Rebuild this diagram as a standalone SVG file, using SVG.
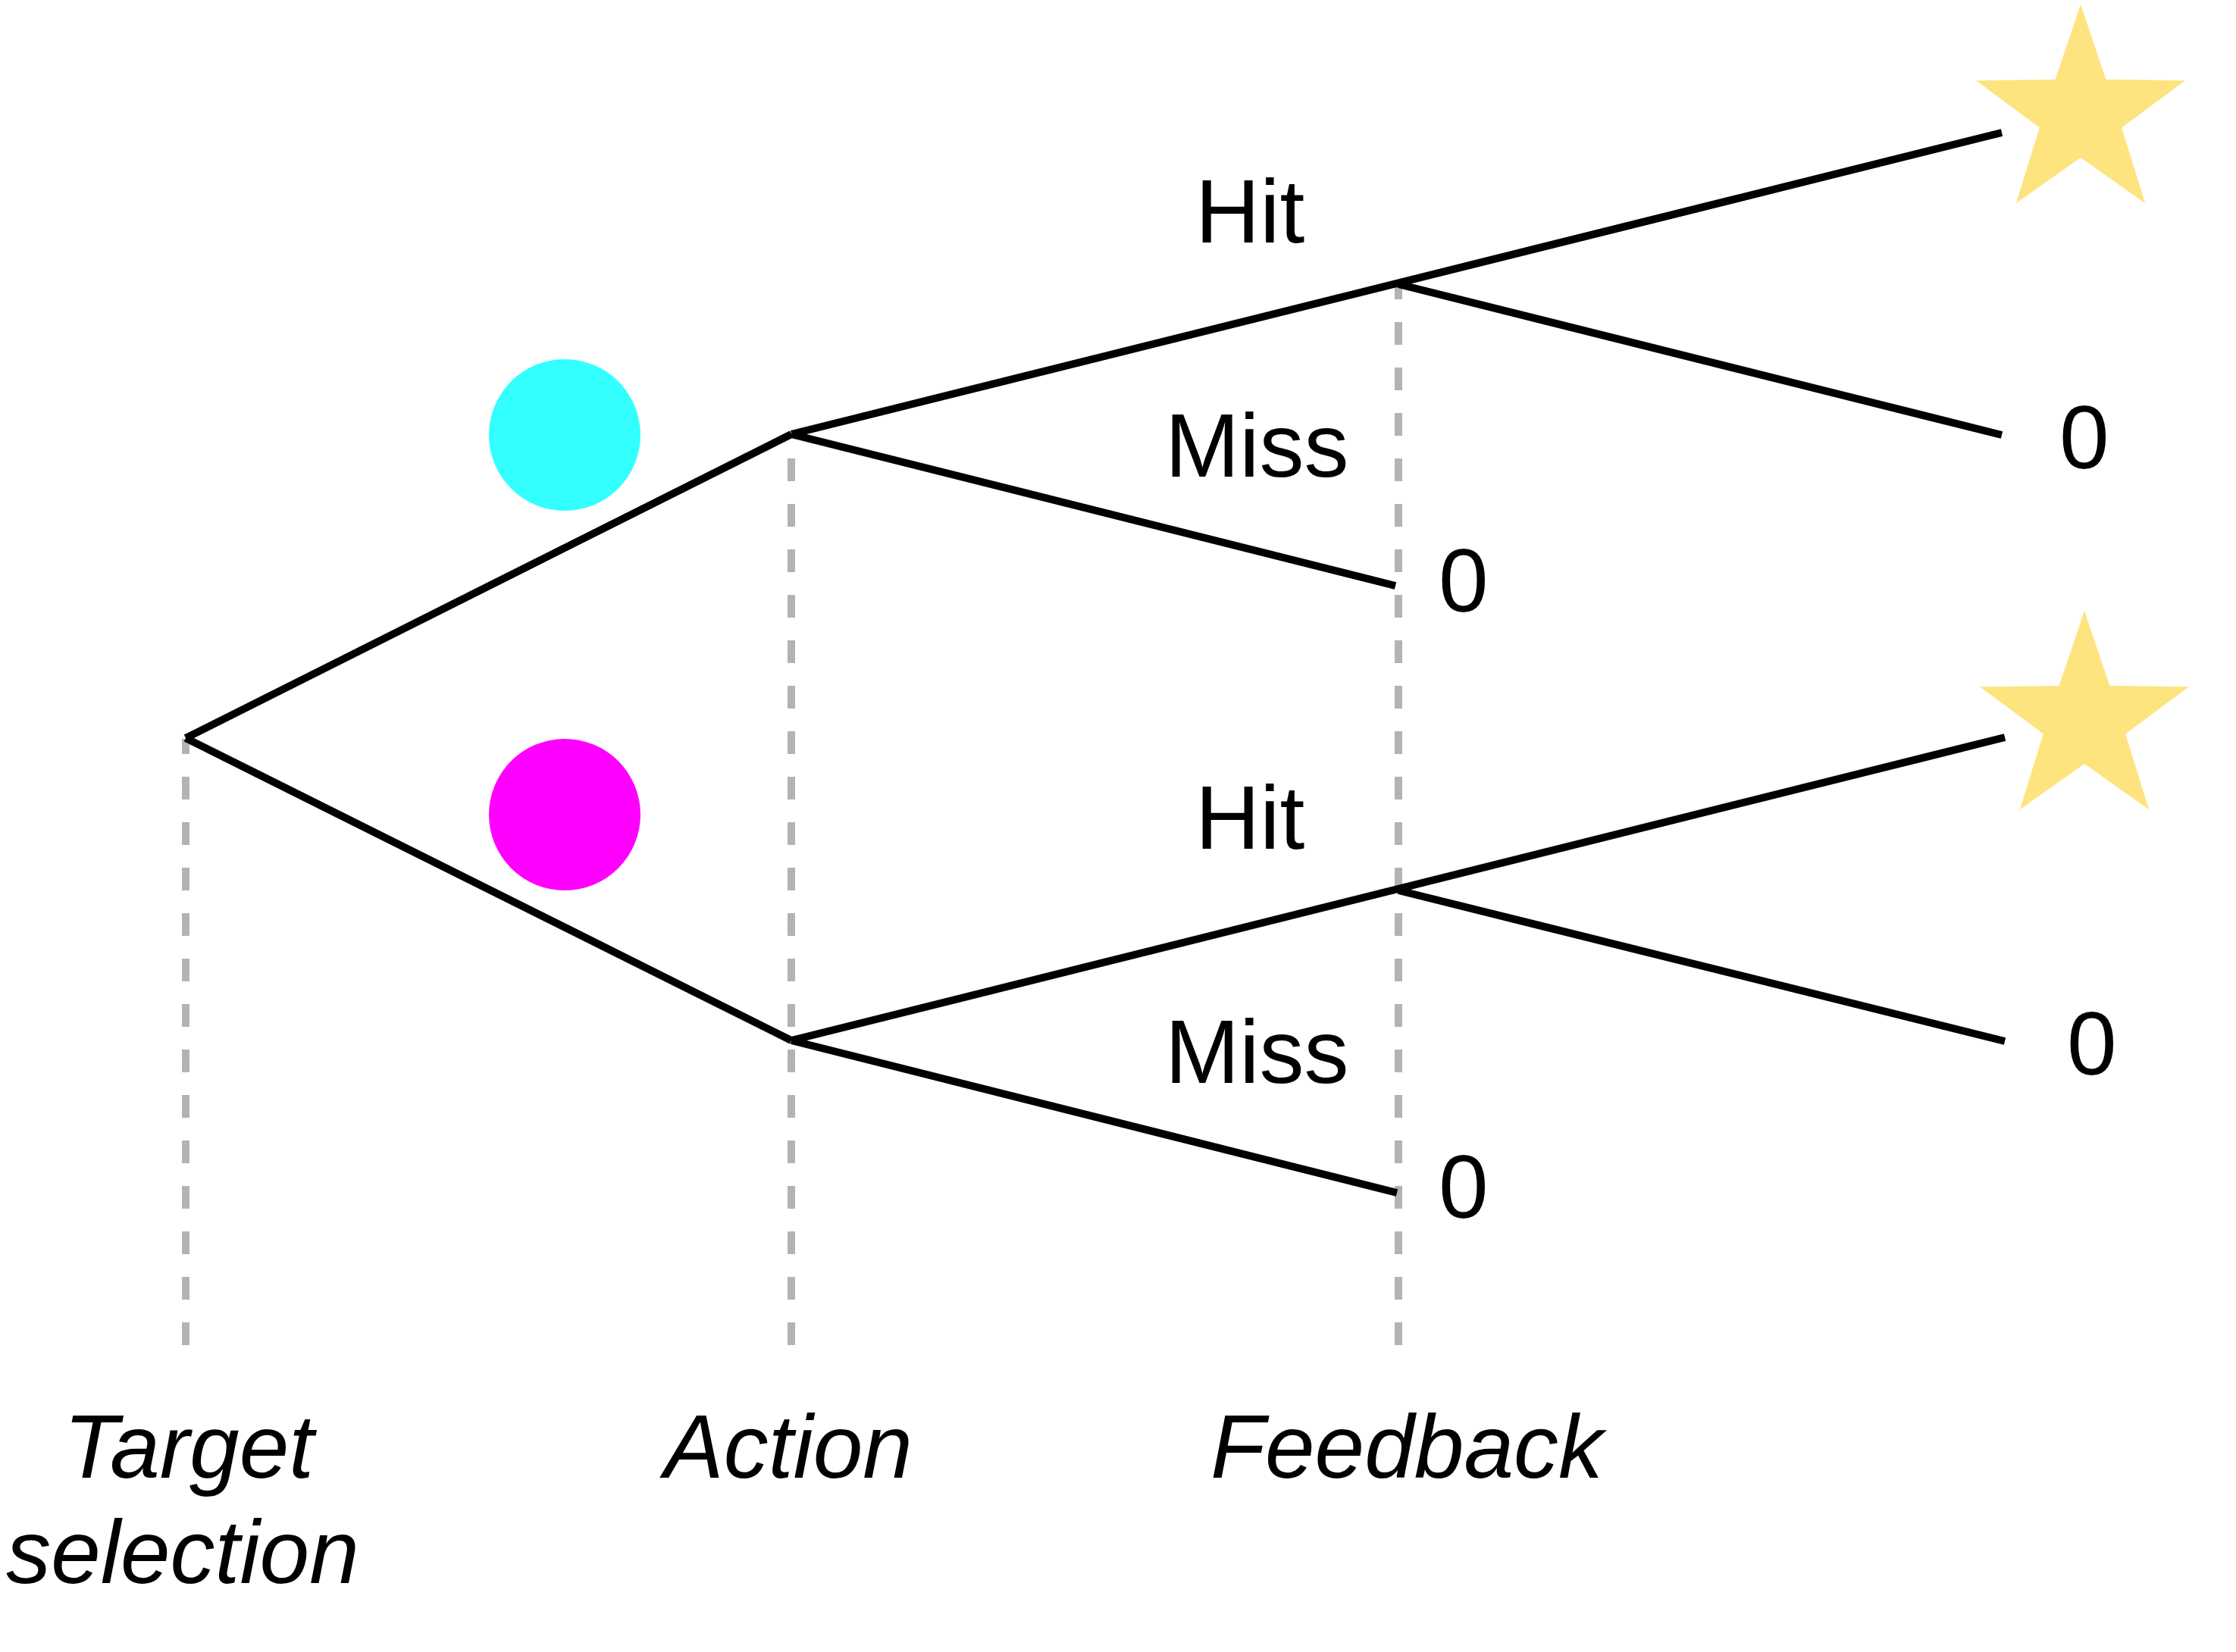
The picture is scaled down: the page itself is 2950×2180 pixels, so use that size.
<svg xmlns="http://www.w3.org/2000/svg" width="2950" height="2180" viewBox="0 0 2950 2180">
  <style>
    .branch { stroke: #000000; stroke-width: 10; stroke-linecap: butt; fill: none; }
    .guide { stroke: #B3B3B3; stroke-width: 10; stroke-dasharray: 30 30; fill: none; }
    .lbl { font-family: "Liberation Sans", Arial, sans-serif; font-size: 118px; fill: #000000; }
    .axis { font-family: "Liberation Sans", Arial, sans-serif; font-size: 118px; font-style: italic; fill: #000000; text-anchor: middle; }
    .star { fill: #FDE47F; }
  </style>
  <defs>
    <polygon id="starShape" points="0,-145 33.5,-46.1 137.9,-44.8 54.2,17.6 85.2,117.3 0,57 -85.2,117.3 -54.2,17.6 -137.9,-44.8 -33.5,-46.1"/>
  </defs>
  <rect width="2950" height="2180" fill="#FFFFFF"/>

  <g id="guides">
    <line class="guide" x1="245" y1="975" x2="245" y2="1775" stroke-dashoffset="10"/>
    <line class="guide" x1="1044" y1="573" x2="1044" y2="1775" stroke-dashoffset="28"/>
    <line class="guide" x1="1845" y1="375" x2="1845" y2="1775" stroke-dashoffset="10"/>
  </g>

  <g id="connectors">
    <line class="branch" x1="245" y1="974" x2="1044" y2="573"/>
    <line class="branch" x1="245" y1="974" x2="1044" y2="1373"/>
    <line class="branch" x1="1044" y1="573" x2="2641" y2="175"/>
    <line class="branch" x1="1044" y1="573" x2="1841" y2="773"/>
    <line class="branch" x1="1845" y1="375" x2="2641" y2="574"/>
    <line class="branch" x1="1044" y1="1373" x2="2645" y2="973"/>
    <line class="branch" x1="1044" y1="1373" x2="1843" y2="1574"/>
    <line class="branch" x1="1845" y1="1175" x2="2645" y2="1374"/>
  </g>

  <g id="cue-cyan">
    <circle cx="745" cy="574" r="100" fill="#33FFFF"/>
  </g>
  <g id="cue-magenta">
    <circle cx="745" cy="1075" r="100" fill="#FF00FF"/>
  </g>

  <g id="reward-top">
    <use href="#starShape" class="star" transform="translate(2745,151)"/>
  </g>
  <g id="reward-bottom">
    <use href="#starShape" class="star" transform="translate(2750,951)"/>
  </g>

  <g id="labels-top">
    <text class="lbl" x="1577" y="320">Hit</text>
    <text class="lbl" x="1537" y="629">Miss</text>
    <text class="lbl" x="1898" y="807">0</text>
    <text class="lbl" x="2717" y="618">0</text>
  </g>
  <g id="labels-bottom">
    <text class="lbl" x="1577" y="1120">Hit</text>
    <text class="lbl" x="1537" y="1429">Miss</text>
    <text class="lbl" x="1898" y="1607">0</text>
    <text class="lbl" x="2727" y="1418">0</text>
  </g>

  <g id="stage-target">
    <text class="axis" x="249" y="1950">Target</text>
    <text class="axis" x="241" y="2089">selection</text>
  </g>
  <g id="stage-action">
    <text class="axis" x="1040" y="1950">Action</text>
  </g>
  <g id="stage-feedback">
    <text class="axis" x="1856" y="1950">Feedback</text>
  </g>
</svg>
